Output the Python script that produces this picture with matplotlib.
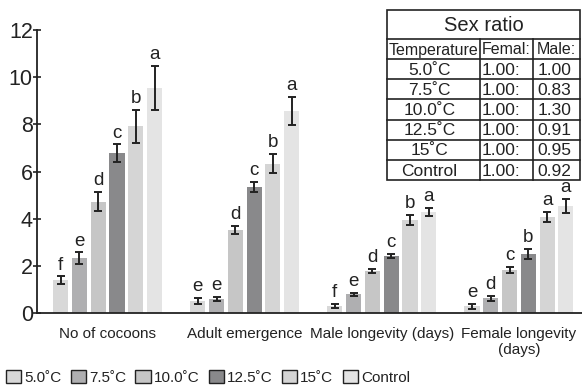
import numpy as np
import matplotlib.pyplot as plt
from matplotlib.patches import Patch

plt.rcParams['font.family'] = ['Liberation Sans', 'DejaVu Sans']

# Treatments and measured traits
temps = ['5.0˚C', '7.5˚C', '10.0˚C', '12.5˚C', '15˚C', 'Control']
traits = ['No of cocoons', 'Adult emergence', 'Male longevity (days)',
          'Female longevity\n(days)']
colors = ['#d8d8d8', '#afafb1', '#c6c6c6', '#89898b', '#d5d5d5', '#e4e4e4']

# Mean values (rows = temperature, columns = trait)
means = [
    [1.40, 0.51, 0.29, 0.29],
    [2.33, 0.59, 0.80, 0.63],
    [4.72, 3.52, 1.78, 1.83],
    [6.77, 5.34, 2.42, 2.50],
    [7.91, 6.33, 3.95, 4.08],
    [9.55, 8.58, 4.29, 4.55],
]
errors = [
    [0.15, 0.13, 0.08, 0.10],
    [0.24, 0.10, 0.06, 0.10],
    [0.40, 0.17, 0.10, 0.14],
    [0.38, 0.22, 0.10, 0.20],
    [0.71, 0.40, 0.20, 0.21],
    [0.94, 0.59, 0.18, 0.30],
]
letters = [
    ['f', 'e', 'f', 'e'],
    ['e', 'e', 'e', 'd'],
    ['d', 'd', 'd', 'c'],
    ['c', 'c', 'c', 'b'],
    ['b', 'b', 'b', 'a'],
    ['a', 'a', 'a', 'a'],
]

# Sex ratio table
ratio_temps = ['5.0˚C', '7.5˚C', '10.0˚C', '12.5˚C', '15˚C', 'Control']
female_ratio = ['1.00:'] * 6
male_ratio = ['1.00', '0.83', '1.30', '0.91', '0.95', '0.92']

fig = plt.figure(figsize=(5.82, 3.91), dpi=100)
ax = fig.add_axes([37 / 582, 1 - 313 / 391, 545 / 582, 283 / 391])

x = np.arange(len(traits))
step = 0.137
width = 0.11
for i, temp in enumerate(temps):
    xs = x + (i - 2.5) * step
    ax.bar(xs, means[i], width, color=colors[i], zorder=1)
    ax.errorbar(xs, means[i], yerr=errors[i], fmt='none', ecolor='#222222',
                elinewidth=1.4, capsize=3, capthick=1.4, zorder=2)
    for xx, m, e, lt in zip(xs, means[i], errors[i], letters[i]):
        ax.text(xx, m + e + 0.12, lt, ha='center', va='bottom', fontsize=13.5,
                color='#222222')

ax.set_xlim(-0.515, 3.46)
ax.set_ylim(0, 12)
ax.set_yticks([0, 2, 4, 6, 8, 10, 12])
ax.set_xticks(x)
ax.set_xticklabels(traits, fontsize=11, color='#222222')
ax.tick_params(axis='x', length=0, pad=10)
ax.tick_params(axis='y', direction='inout', length=6, width=1.2,
               labelsize=15.5, pad=0, colors='#222222')
for side in ['top', 'right']:
    ax.spines[side].set_visible(False)
for side in ['left', 'bottom']:
    ax.spines[side].set_linewidth(1.3)
    ax.spines[side].set_color('#222222')

# Sex ratio table drawn in figure pixels
W, H = 582, 391
tab = fig.add_axes([0, 0, 1, 1], zorder=5)
tab.set_xlim(0, W)
tab.set_ylim(H, 0)
tab.axis('off')
left, right = 387, 580
c1, c2 = 480, 533
top, head_top, row0 = 10, 39, 59
row_h = 20.2
bottom = row0 + 6 * row_h
tab.add_patch(plt.Rectangle((left, top), right - left, bottom - top,
                            facecolor='white', edgecolor='#222222', lw=1.2))
for yy in [head_top, row0] + [row0 + k * row_h for k in range(1, 6)]:
    tab.plot([left, right], [yy, yy], color='#222222', lw=1.2)
for xx in [c1, c2]:
    tab.plot([xx, xx], [head_top, bottom], color='#222222', lw=1.2)
tab.text((left + right) / 2, (top + head_top) / 2 + 1, 'Sex ratio',
         ha='center', va='center', fontsize=14.5, color='#222222')
hy = (head_top + row0) / 2 + 1
tab.text((left + c1) / 2, hy, 'Temperature', ha='center', va='center',
         fontsize=11.5, color='#222222')
tab.text((c1 + c2) / 2, hy, 'Femal:', ha='center', va='center',
         fontsize=11.5, color='#222222')
tab.text((c2 + right) / 2, hy, 'Male:', ha='center', va='center',
         fontsize=11.5, color='#222222')
for k in range(6):
    yy = row0 + (k + 0.5) * row_h + 1
    tab.text((left + c1) / 2 - 4, yy, ratio_temps[k], ha='center',
             va='center', fontsize=12.5, color='#222222')
    tab.text(c1 + 2, yy, female_ratio[k], ha='left', va='center',
             fontsize=12.5, color='#222222')
    tab.text((c2 + right) / 2 - 2, yy, male_ratio[k], ha='center',
             va='center', fontsize=12.5, color='#222222')

handles = [Patch(facecolor=c, edgecolor='#222222', lw=1.0) for c in colors]
fig.legend(handles, temps, loc='lower left', bbox_to_anchor=(0.0, 0.0),
           ncol=6, frameon=False, fontsize=11, handlelength=1.0,
           handleheight=1.0, handletextpad=0.2, columnspacing=0.6,
           borderaxespad=0.1, borderpad=0.3, labelcolor='#222222')

fig.savefig('out.png', dpi=100)
